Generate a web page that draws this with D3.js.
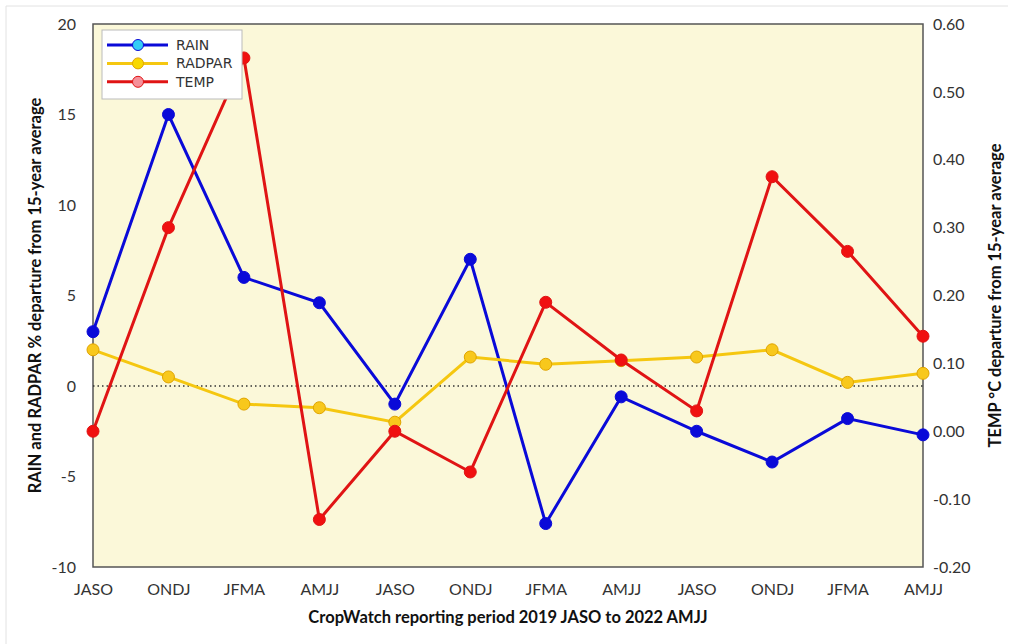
<!DOCTYPE html>
<html>
<head>
<meta charset="utf-8">
<script src="https://cdn.jsdelivr.net/npm/d3@7"></script>
<style>
  body { margin: 0; background: #fff; }
  svg { display: block; }
  .tick text { font-family: Lato, "Open Sans", sans-serif; font-size: 16px; fill: #333; }
  .title { font-family: Lato, "Open Sans", sans-serif; font-size: 16.5px; font-weight: bold; fill: #111; }
  .legend text { font-family: "DejaVu Sans", sans-serif; font-size: 14px; fill: #333; }
</style>
</head>
<body>
<div id="chart"></div>
<script>
const periods = ["JASO","ONDJ","JFMA","AMJJ","JASO","ONDJ","JFMA","AMJJ","JASO","ONDJ","JFMA","AMJJ"];
const rain   = [3.0, 15.0, 6.0, 4.6, -1.0, 7.0, -7.6, -0.6, -2.5, -4.2, -1.8, -2.7];
const radpar = [2.0, 0.5, -1.0, -1.2, -2.0, 1.6, 1.2, 1.4, 1.6, 2.0, 0.2, 0.7];
const temp   = [0.00, 0.30, 0.55, -0.13, 0.00, -0.06, 0.19, 0.105, 0.03, 0.375, 0.265, 0.14];
const leftTicks  = [-10, -5, 0, 5, 10, 15, 20];
const rightTicks = [-0.2, -0.1, 0, 0.1, 0.2, 0.3, 0.4, 0.5, 0.6];

const w = 1014, h = 644;
const pLeft = 93, pRight = 923, pTop = 24, pBottom = 567;

const svg = d3.select("#chart").append("svg")
  .attr("width", w).attr("height", h);

// faint page border
svg.append("path")
  .attr("d", "M6,644 V6 H1008")
  .attr("fill", "none").attr("stroke", "#e2e2e2").attr("stroke-width", 1);

const x = d3.scalePoint().domain(d3.range(periods.length)).range([pLeft, pRight]);
const yL = d3.scaleLinear().domain([-10, 20]).range([pBottom, pTop]);
const yR = d3.scaleLinear().domain([-0.2, 0.6]).range([pBottom, pTop]);

svg.append("rect")
  .attr("x", pLeft).attr("y", pTop)
  .attr("width", pRight - pLeft).attr("height", pBottom - pTop)
  .attr("fill", "#fbf8d9").attr("stroke", "#555").attr("stroke-width", 1.5);

// zero line
svg.append("line")
  .attr("x1", pLeft).attr("x2", pRight)
  .attr("y1", yL(0)).attr("y2", yL(0))
  .attr("stroke", "#333").attr("stroke-width", 1.3)
  .attr("stroke-dasharray", "1.5,3");

// axes
const gx = svg.append("g")
  .attr("transform", "translate(0," + pBottom + ")")
  .call(d3.axisBottom(x).tickFormat(i => periods[i]).tickSize(0).tickPadding(17));
gx.select(".domain").remove();

const gl = svg.append("g")
  .attr("transform", "translate(" + pLeft + ",0)")
  .call(d3.axisLeft(yL).tickValues(leftTicks).tickSize(0).tickPadding(17));
gl.select(".domain").remove();
gl.selectAll(".tick text").text(d => String(d));

const gr = svg.append("g")
  .attr("transform", "translate(" + pRight + ",0)")
  .call(d3.axisRight(yR).tickValues(rightTicks).tickSize(0).tickPadding(10));
gr.select(".domain").remove();
gr.selectAll(".tick text").text(d => d.toFixed(2));

// series
const series = [
  { name: "RAIN",   values: rain,   y: yL, color: "#0a0ad8", fill: "#0a0ad8", legendFill: "#33ccf5", stroke: "#0a0ad8" },
  { name: "RADPAR", values: radpar, y: yL, color: "#f5c710", fill: "#f8c81c", legendFill: "#f8d800", stroke: "#e0a400" },
  { name: "TEMP",   values: temp,   y: yR, color: "#e01414", fill: "#f01010", legendFill: "#f5909a", stroke: "#e01414" }
];

series.forEach(s => {
  const line = d3.line().x((d, i) => x(i)).y(d => s.y(d));
  svg.append("path")
    .datum(s.values)
    .attr("d", line)
    .attr("fill", "none")
    .attr("stroke", s.color)
    .attr("stroke-width", 3);
  svg.append("g").selectAll("circle")
    .data(s.values)
    .enter()
    .append("circle")
    .attr("cx", (d, i) => x(i))
    .attr("cy", d => s.y(d))
    .attr("r", 6)
    .attr("fill", s.fill)
    .attr("stroke", s.stroke)
    .attr("stroke-width", 1);
});

// legend
const lg = svg.append("g").attr("class", "legend");
lg.append("rect")
  .attr("x", 102).attr("y", 30).attr("width", 140).attr("height", 69)
  .attr("fill", "#fff").attr("stroke", "#bbb").attr("stroke-width", 1);
series.forEach((s, i) => {
  const yy = 45 + i * 18.4;
  lg.append("line")
    .attr("x1", 107).attr("x2", 168).attr("y1", yy).attr("y2", yy)
    .attr("stroke", s.color).attr("stroke-width", 3);
  lg.append("circle")
    .attr("cx", 138).attr("cy", yy).attr("r", 5.5)
    .attr("fill", s.legendFill).attr("stroke", s.stroke).attr("stroke-width", 1);
  lg.append("text")
    .attr("x", 176).attr("y", yy).attr("dy", "0.36em")
    .text(s.name);
});

// titles
svg.append("text")
  .attr("class", "title")
  .attr("transform", "translate(41," + ((pTop + pBottom) / 2) + ") rotate(-90)")
  .attr("text-anchor", "middle")
  .text("RAIN and RADPAR % departure from 15-year average");

svg.append("text")
  .attr("class", "title")
  .attr("transform", "translate(1001," + ((pTop + pBottom) / 2) + ") rotate(-90)")
  .attr("text-anchor", "middle")
  .text("TEMP °C departure from 15-year average");

svg.append("text")
  .attr("class", "title")
  .attr("x", (pLeft + pRight) / 2).attr("y", 623)
  .attr("text-anchor", "middle")
  .text("CropWatch reporting period 2019 JASO to 2022 AMJJ");
</script>
</body>
</html>
